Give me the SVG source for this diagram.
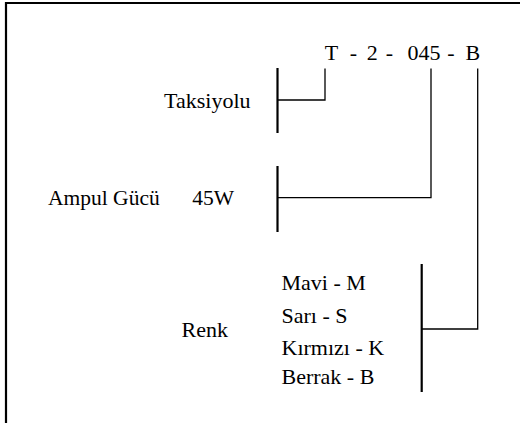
<svg xmlns="http://www.w3.org/2000/svg" width="520" height="423" viewBox="0 0 520 423">
<style>
text{font-family:'Liberation Serif','Times New Roman',Times,serif;font-size:22px;fill:#000}
.bar{stroke:#000;stroke-width:2.2;fill:none}
.ln{stroke:#000;stroke-width:1.3;fill:none}
</style>
<rect width="520" height="423" fill="#fff"/>
<path d="M6,423 V3 H520" stroke="#000" stroke-width="2.2" fill="none"/>
<g id="code">
<text x="324.8" y="59.5">T</text>
<text x="349.8" y="59.5">-</text>
<text x="366.8" y="59.5">2</text>
<text x="385.8" y="59.5">-</text>
<text x="407.6" y="59.5">045</text>
<text x="447.3" y="59.5">-</text>
<text x="465.6" y="59.5">B</text>
</g>
<g id="taksiyolu">
<text x="250.5" y="108" text-anchor="end">Taksiyolu</text>
<line class="bar" x1="277.5" y1="68" x2="277.5" y2="133"/>
</g>
<g id="ampul">
<text x="48" y="205" style="font-size:21.5px">Ampul Gücü</text>
<text x="192.3" y="205" style="font-size:21.5px">45W</text>
<line class="bar" x1="277.5" y1="166" x2="277.5" y2="232"/>
</g>
<g id="renk">
<text x="181.5" y="337">Renk</text>
<text x="281.5" y="289.5">Mavi - M</text>
<text x="281.5" y="323">Sarı - S</text>
<text x="281.5" y="354.5">Kırmızı - K</text>
<text x="281.5" y="384">Berrak - B</text>
<line class="bar" x1="421.7" y1="264" x2="421.7" y2="392"/>
</g>
<g id="connectors">
<path class="ln" d="M277.5,100 H325 V68.5"/>
<path class="ln" d="M277.5,197.7 H431 V68.5"/>
<path class="ln" d="M421.7,329 H477.7 V68.5"/>
</g>
</svg>
